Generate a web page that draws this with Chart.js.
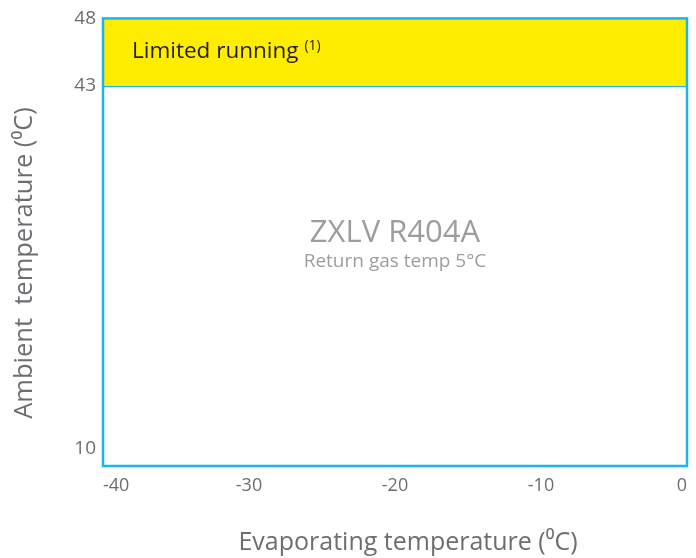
<!DOCTYPE html>
<html>
<head>
<meta charset="utf-8">
<script src="https://cdn.jsdelivr.net/npm/chart.js@4.4.1/dist/chart.umd.min.js"></script>
<style>
  html, body { margin: 0; padding: 0; background: #ffffff; }
  #wrap { width: 696px; height: 558px; position: relative; }
</style>
</head>
<body>
<div id="wrap"><canvas id="envelopeChart" width="696" height="558"></canvas></div>
<script>
// Operating envelope data
const xTicks = [-40, -30, -20, -10, 0];
const yTicks = [10, 43, 48];
const xRange = [-40, 0];
const yRange = [8.45, 48];
const limitedX = [-40, 0];
const limitedTop = [48, 48];
const limitedBottom = [43, 43];

const bandLabel = 'Limited running';
const bandNote = '(1)';
const modelName = 'ZXLV R404A';
const modelNote = 'Return gas temp 5°C';
const xTitle = 'Evaporating temperature (⁰C)';
const yTitle = 'Ambient  temperature (⁰C)';

const BLUE = '#19b5ec';
const YELLOW = '#ffed00';
const GREY = '#6d6e71';
const FONT = '"Open Sans", "Noto Sans", sans-serif';

// y axis in the original is not to scale: 43..48 gets more room than 10..43
class SplitLinearScale extends Chart.LinearScale {
  static id = 'splitLinear';
  _pieces() {
    const b = this.options.breakValue;
    const f = this.options.breakFraction;
    return [[this.min, 0], [b, f], [this.max, 1]];
  }
  getPixelForValue(value) {
    if (value === null || value === undefined || isNaN(value)) return NaN;
    const p = this._pieces();
    const i = value <= p[1][0] ? 0 : 1;
    const [v0, f0] = p[i];
    const [v1, f1] = p[i + 1];
    return this.getPixelForDecimal(f0 + (value - v0) / (v1 - v0) * (f1 - f0));
  }
  getValueForPixel(pixel) {
    const d = this.getDecimalForPixel(pixel);
    const p = this._pieces();
    const i = d <= p[1][1] ? 0 : 1;
    const [v0, f0] = p[i];
    const [v1, f1] = p[i + 1];
    return v0 + (d - f0) / (f1 - f0) * (v1 - v0);
  }
}
Chart.register(SplitLinearScale);

const toPoints = (xs, ys) => xs.map((x, i) => ({ x: x, y: ys[i] }));

// Box outline and the text inside the envelope
const envelopePlugin = {
  id: 'envelope',
  afterDatasetsDraw(chart) {
    const { ctx, chartArea: a, scales } = chart;
    const x = scales.x, y = scales.y;
    ctx.save();
    ctx.strokeStyle = BLUE;
    ctx.lineWidth = 2.5;
    ctx.strokeRect(a.left, a.top, a.right - a.left, a.bottom - a.top);

    // band label
    ctx.fillStyle = '#231f20';
    ctx.textBaseline = 'middle';
    ctx.textAlign = 'left';
    ctx.font = '22.5px ' + FONT;
    const lx = x.getPixelForValue(-40) + 29;
    const ly = (y.getPixelForValue(48) + y.getPixelForValue(43)) / 2 - 1;
    ctx.fillText(bandLabel, lx, ly);
    const w = ctx.measureText(bandLabel).width;
    ctx.font = '14px ' + FONT;
    ctx.fillText(bandNote, lx + w + 6, ly - 5);

    // model name
    const cx = (a.left + a.right) / 2;
    ctx.textAlign = 'center';
    ctx.fillStyle = '#9d9d9f';
    ctx.font = '31px ' + FONT;
    ctx.fillText(modelName, cx, 233);
    ctx.font = '19px ' + FONT;
    ctx.fillText(modelNote, cx, 262);

    // axis titles
    ctx.fillStyle = GREY;
    ctx.font = '25px ' + FONT;
    ctx.fillText(xTitle, 408, 543);
    ctx.font = '25.5px ' + FONT;
    ctx.translate(25, 263);
    ctx.rotate(-Math.PI / 2);
    ctx.fillText(yTitle, 0, 0);
    ctx.restore();
  }
};

new Chart(document.getElementById('envelopeChart'), {
  type: 'line',
  data: {
    datasets: [
      {
        label: 'Limited running',
        data: toPoints(limitedX, limitedTop),
        borderWidth: 0,
        pointRadius: 0,
        backgroundColor: YELLOW,
        fill: { target: { value: limitedBottom[0] } }
      },
      {
        label: 'Limit',
        data: toPoints(limitedX, limitedBottom),
        borderColor: BLUE,
        borderWidth: 2.5,
        pointRadius: 0,
        fill: false
      }
    ]
  },
  options: {
    responsive: false,
    animation: false,
    layout: { padding: { top: 16, right: 6, left: 0, bottom: 0 } },
    plugins: { legend: { display: false }, tooltip: { enabled: false } },
    scales: {
      x: {
        type: 'linear',
        min: xRange[0],
        max: xRange[1],
        afterBuildTicks: s => { s.ticks = xTicks.map(v => ({ value: v })); },
        afterFit: s => { s.height = 92; },
        grid: { display: false, drawTicks: false },
        border: { display: false },
        ticks: {
          align: 'inner',
          padding: 9,
          color: GREY,
          font: { family: FONT, size: 18 }
        }
      },
      y: {
        type: 'splitLinear',
        min: yRange[0],
        max: yRange[1],
        breakValue: 43,
        breakFraction: 0.849,
        afterBuildTicks: s => { s.ticks = yTicks.map(v => ({ value: v })); },
        afterFit: s => { s.width = 103; },
        grid: { display: false, drawTicks: false },
        border: { display: false },
        ticks: {
          padding: 7,
          color: GREY,
          font: { family: FONT, size: 19 }
        }
      }
    }
  },
  plugins: [envelopePlugin]
});
</script>
</body>
</html>
